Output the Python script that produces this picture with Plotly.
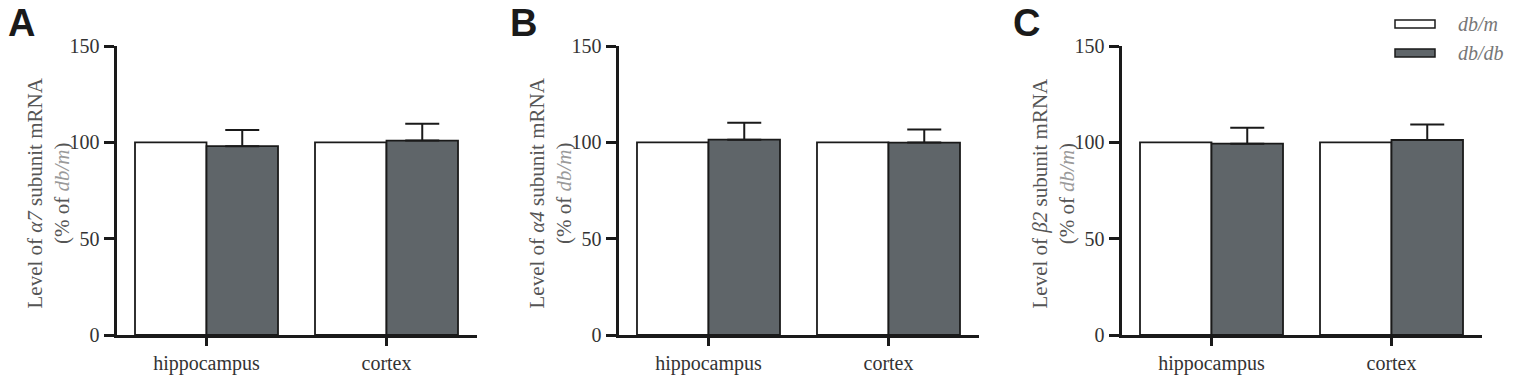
import plotly.graph_objects as go

categories = ["hippocampus", "cortex"]
series_names = ["db/m", "db/db"]

dbm_A = [100, 100]
dbdb_A = [98.0, 100.9]
dbdb_err_A = [8.4, 8.8]

dbm_B = [100, 100]
dbdb_B = [101.4, 99.9]
dbdb_err_B = [8.7, 6.8]

dbm_C = [100, 100]
dbdb_C = [99.3, 101.2]
dbdb_err_C = [8.3, 8.1]

panel_letters = ["A", "B", "C"]
subunits = ["α7", "α4", "β2"]
y_ticks = [0, 50, 100, 150]

W, H = 1515, 380
WHITE = "#ffffff"
GREY = "#5f6569"
INK = "#1a1a1a"
TXT = "#555555"
LIGHT = "#9a9a9a"
SERIF = "Liberation Serif, Times New Roman, serif"
SANS = "Liberation Sans, Arial, sans-serif"

panels = [
    (dbm_A, dbdb_A, dbdb_err_A),
    (dbm_B, dbdb_B, dbdb_err_B),
    (dbm_C, dbdb_C, dbdb_err_C),
]
axis_left_px = [116.5, 618.5, 1121.5]
axis_w_px = 360
y_bottom_px, y_top_px = 335, 46

fig = go.Figure()
for i, (dbm, dbdb, err) in enumerate(panels):
    sfx = "" if i == 0 else str(i + 1)
    fig.add_trace(go.Bar(
        x=categories, y=dbm, name=series_names[0],
        marker=dict(color=WHITE, line=dict(color=INK, width=1.8)),
        xaxis="x" + sfx, yaxis="y" + sfx, showlegend=False,
    ))
    fig.add_trace(go.Bar(
        x=categories, y=dbdb, name=series_names[1],
        marker=dict(color=GREY, line=dict(color=INK, width=1.8)),
        error_y=dict(type="data", array=err, arrayminus=[0] * len(err),
                     symmetric=False, color=INK, thickness=2, width=17),
        xaxis="x" + sfx, yaxis="y" + sfx, showlegend=False,
    ))

layout = dict(
    width=W, height=H,
    margin=dict(l=0, r=0, t=0, b=0, autoexpand=False),
    paper_bgcolor="white", plot_bgcolor="white",
    barmode="group", bargap=0.2055, bargroupgap=0,
    showlegend=False,
    font=dict(family=SERIF, size=20, color="#333333"),
)
ydom = [1 - y_bottom_px / H, 1 - y_top_px / H]
annotations = []
shapes = []
for i in range(3):
    sfx = "" if i == 0 else str(i + 1)
    x0 = axis_left_px[i] / W
    x1 = (axis_left_px[i] + axis_w_px) / W
    layout["xaxis" + sfx] = dict(
        domain=[x0, x1], anchor="y" + sfx, showline=True, linewidth=3,
        linecolor=INK, ticks="outside", ticklen=8, tickwidth=3, tickcolor=INK,
        showgrid=False, zeroline=False, range=[-0.5, 1.5], automargin=False,
        tickfont=dict(family=SERIF, size=20, color="#333333"), fixedrange=True,
    )
    layout["yaxis" + sfx] = dict(
        domain=ydom, anchor="x" + sfx, range=[0, 150], showline=True,
        linewidth=3, linecolor=INK, ticks="outside", ticklen=10, tickwidth=3,
        tickcolor=INK, tickvals=y_ticks, showgrid=False, zeroline=False,
        automargin=False,
        tickfont=dict(family=SERIF, size=20, color="#333333"), fixedrange=True,
    )
    # y-axis title
    annotations.append(dict(
        xref="paper", yref="paper", x=(axis_left_px[i] - 69) / W,
        y=(1 - 193 / H), xanchor="center", yanchor="middle", textangle=-90,
        showarrow=False,
        text=(f"Level of <i>{subunits[i]}</i> subunit mRNA<br>"
              f"(% of <i><span style='color:{LIGHT}'>db/m</span></i>)"),
        font=dict(family=SERIF, size=21, color=TXT),
    ))
    # panel letter
    annotations.append(dict(
        xref="paper", yref="paper", x=(axis_left_px[i] - 111) / W, y=1.0,
        xanchor="left", yanchor="top", showarrow=False, text=f"<b>{panel_letters[i]}</b>",
        font=dict(family=SANS, size=38, color=INK),
    ))

# legend (panel C, top right)
leg_fill = [WHITE, GREY]
leg_y = [24, 53]
for name, fill, yc in zip(series_names, leg_fill, leg_y):
    shapes.append(dict(
        type="rect", xref="paper", yref="paper",
        x0=1395 / W, x1=1435 / W, y0=1 - (yc + 4) / H, y1=1 - (yc - 4) / H,
        fillcolor=fill, line=dict(color=INK, width=1.5),
    ))
    annotations.append(dict(
        xref="paper", yref="paper", x=1456 / W, y=1 - yc / H,
        xanchor="left", yanchor="middle", showarrow=False,
        text=f"<i>{name}</i>", font=dict(family=SERIF, size=20, color="#777777"),
    ))

layout["annotations"] = annotations
layout["shapes"] = shapes
fig.update_layout(**layout)
fig.write_html(
    "out.html",
    config={"displayModeBar": False, "staticPlot": True},
    post_script="document.body.style.margin='0';document.body.style.overflow='hidden';",
)
